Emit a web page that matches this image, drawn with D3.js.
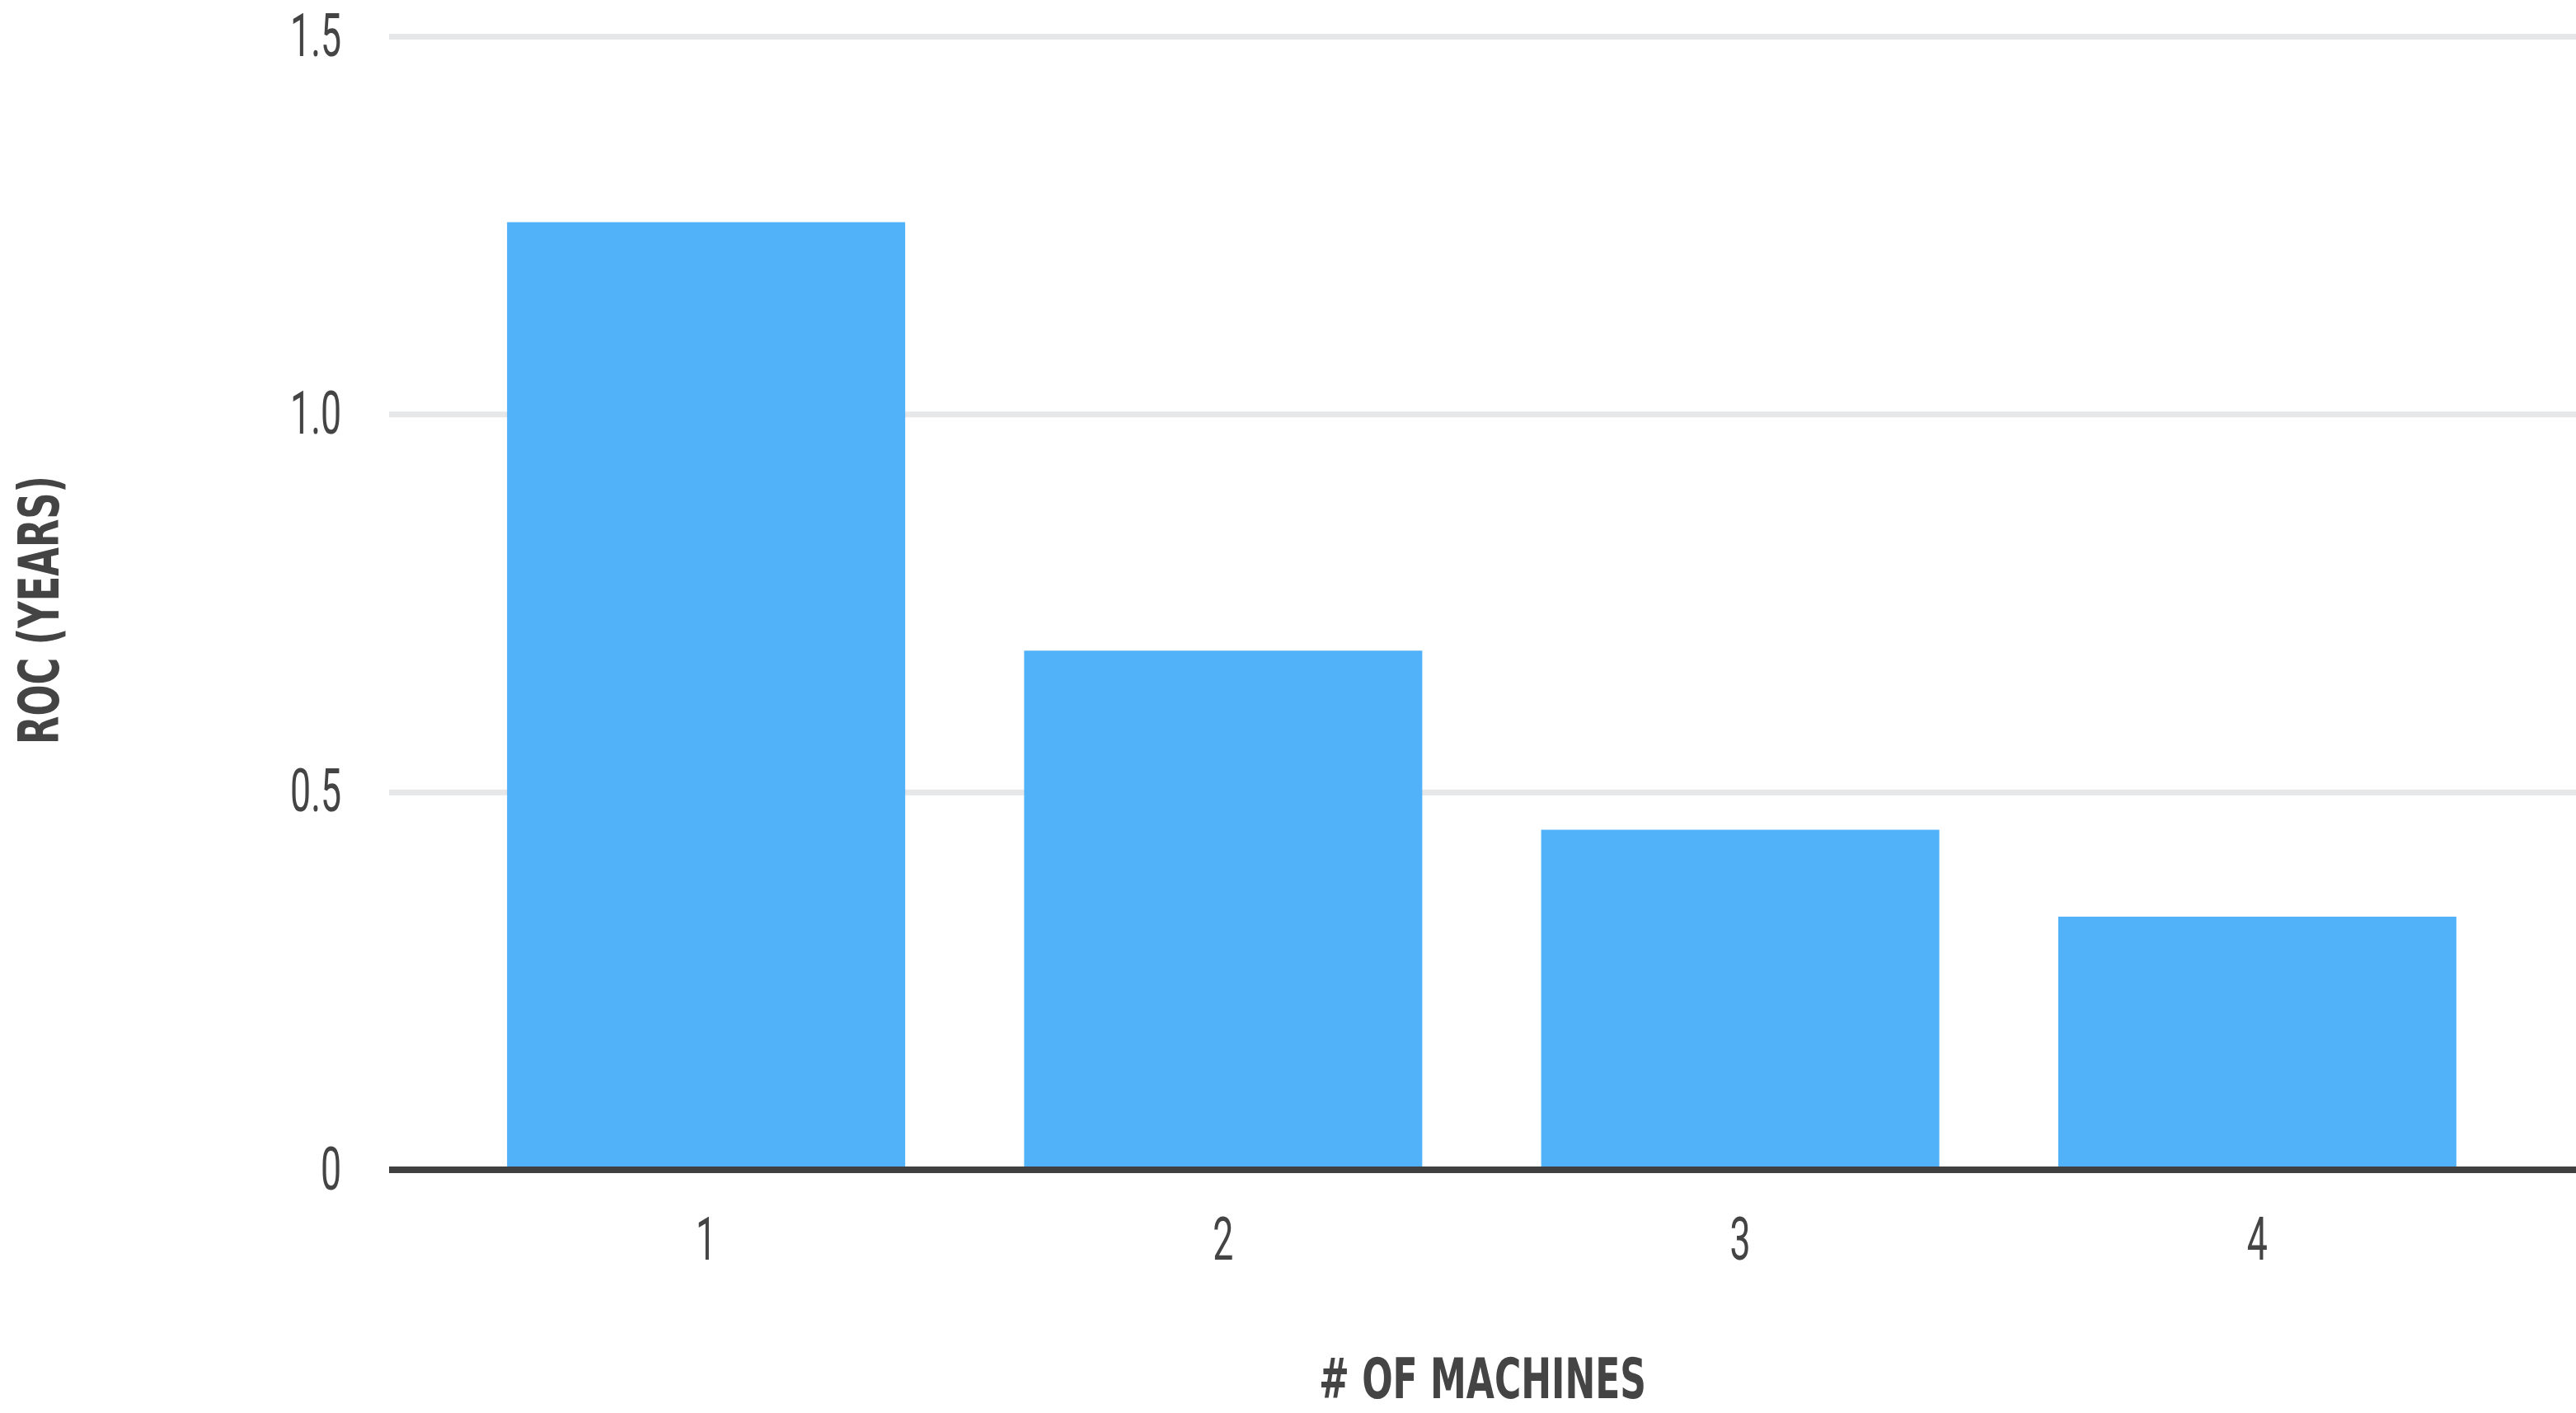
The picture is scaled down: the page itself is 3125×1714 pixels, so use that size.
<!DOCTYPE html>
<html>
<head>
<meta charset="utf-8">
<script src="https://cdn.jsdelivr.net/npm/d3@7"></script>
<style>
  body { margin: 0; background: #fff; }
  text { fill: #444444; }
  .tick text { font-family: Roboto, "DejaVu Sans", sans-serif; }
  .title { font-family: "DejaVu Sans Condensed", "DejaVu Sans", sans-serif; }
</style>
</head>
<body>
<svg id="chart" width="3125" height="1714"></svg>
<script>
// Data
var machines = ["1", "2", "3", "4"];
var rocYears = [1.254, 0.687, 0.45, 0.335];
var yTicks = [0, 0.5, 1, 1.5];

// Layout
var margin = { top: 44, right: 0, bottom: 295, left: 472 };
var totalWidth = 3125, totalHeight = 1714;
var width = totalWidth - margin.left - margin.right;
var height = totalHeight - margin.top - margin.bottom;
var squeeze = 0.62; // narrow the tick glyphs like the condensed original

var svg = d3.select("#chart")
    .append("g")
    .attr("transform", "translate(" + margin.left + "," + margin.top + ")");

// Scales
var xScale = d3.scaleBand()
    .domain(machines)
    .range([71, 71 + 2509])
    .paddingInner(0.23)
    .paddingOuter(0.115);

var yScale = d3.scaleLinear()
    .domain([0, 1.5])
    .range([height, 0]);

// Grid lines
svg.append("g")
    .attr("class", "grid")
    .call(d3.axisLeft(yScale)
        .tickValues(yTicks.filter(function(d) { return d > 0; }))
        .tickSize(-width)
        .tickFormat(""))
    .call(function(g) { g.select(".domain").remove(); })
    .selectAll("line")
    .attr("stroke", "#e6e7e9")
    .attr("stroke-width", 7);

// Bars
svg.selectAll(".bar")
    .data(rocYears)
    .enter().append("rect")
    .attr("class", "bar")
    .attr("x", function(d, i) { return xScale(machines[i]); })
    .attr("width", xScale.bandwidth())
    .attr("y", function(d) { return yScale(d); })
    .attr("height", function(d) { return height - yScale(d); })
    .attr("fill", "#51b1f9");

// Y axis labels
var yAxisG = svg.append("g")
    .attr("class", "axis axis--y")
    .call(d3.axisLeft(yScale)
        .tickValues(yTicks)
        .tickSize(0)
        .tickPadding(58)
        .tickFormat(function(d) { return d === 0 ? "0" : d3.format(".1f")(d); }));
yAxisG.select(".domain").remove();
yAxisG.selectAll("text")
    .attr("x", 0)
    .attr("transform", "translate(-58,0) scale(" + squeeze + ",1)")
    .attr("font-size", "72px")
    .attr("font-weight", 400)
    .attr("fill", "#444444");

// X axis
var xAxisG = svg.append("g")
    .attr("class", "axis axis--x")
    .attr("transform", "translate(0," + height + ")")
    .call(d3.axisBottom(xScale)
        .tickSize(0)
        .tickPadding(58));
xAxisG.select(".domain").remove();
xAxisG.selectAll("text")
    .attr("transform", "scale(" + squeeze + ",1)")
    .attr("font-size", "72px")
    .attr("font-weight", 400)
    .attr("fill", "#444444");

// Baseline
xAxisG.append("line")
    .attr("x1", 0)
    .attr("x2", width)
    .attr("stroke", "#404040")
    .attr("stroke-width", 8);

// Axis titles
svg.append("text")
    .attr("class", "title")
    .attr("x", width / 2)
    .attr("y", 1696 - margin.top)
    .attr("text-anchor", "middle")
    .attr("font-size", "68px")
    .attr("font-weight", "bold")
    .attr("textLength", 397)
    .attr("lengthAdjust", "spacingAndGlyphs")
    .text("# OF MACHINES");

svg.append("text")
    .attr("class", "title")
    .attr("transform", "translate(" + (47 - margin.left) + "," + (740 - margin.top) + ") rotate(-90)")
    .attr("text-anchor", "middle")
    .attr("dominant-baseline", "central")
    .attr("font-size", "68px")
    .attr("font-weight", "bold")
    .attr("textLength", 326)
    .attr("lengthAdjust", "spacingAndGlyphs")
    .text("ROC (YEARS)");
</script>
</body>
</html>
